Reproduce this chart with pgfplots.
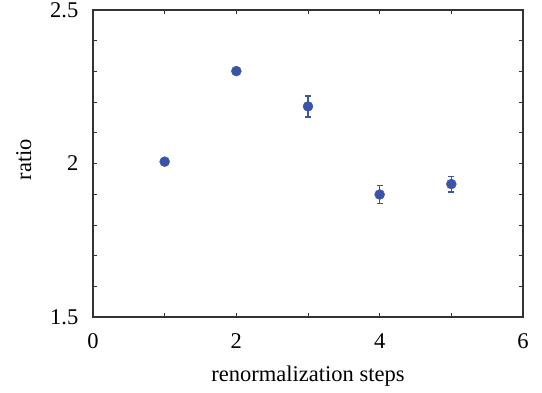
\documentclass[border=0pt]{standalone}
\usepackage{pgfplots}
\pgfplotsset{compat=1.18}
\usepackage{fontspec}
\setmainfont{Liberation Serif}
\definecolor{ptblue}{HTML}{3A55A8}
\definecolor{axgray}{HTML}{333333}
\begin{document}
\fontsize{22.5}{27}\selectfont
\begin{tikzpicture}
\useasboundingbox (-93pt,-75pt) rectangle (449pt,317pt);
\begin{axis}[
  scale only axis,
  width=430pt, height=307pt,
  at={(0,0)}, anchor=south west,
  xmin=0, xmax=6, ymin=1.5, ymax=2.5,
  xtick={0,1,2,3,4,5,6},
  xticklabels={0,,2,,4,,6},
  ytick={1.5,1.6,1.7,1.8,1.9,2,2.1,2.2,2.3,2.4,2.5},
  yticklabels={1.5,,,,,2,,,,,2.5},
  tick align=inside,
  major tick length=4pt,
  tick style={axgray, line width=0.8pt},
  axis line style={axgray, line width=1.2pt},
  ticklabel style={font=\fontsize{22.5}{27}\selectfont},
  /pgf/number format/assume math mode=true,
  xlabel={renormalization steps},
  ylabel={ratio},
  label style={font=\fontsize{22.5}{27}\selectfont},
  xlabel style={at={(0.5,0)}, anchor=north, yshift=-41pt},
  ylabel style={at={(0,0.5)}, anchor=south, xshift=4pt, yshift=54pt},
  xticklabel style={yshift=-9pt},
  yticklabel style={xshift=-7pt},
]
\addplot[
  only marks, color=ptblue,
  mark=*, mark size=5pt, mark options={draw=ptblue, fill=ptblue},
  error bars/.cd, y dir=both, y explicit,
  error bar style={line width=1.6pt, ptblue},
  error mark options={rotate=90, mark size=3pt, line width=1.6pt, ptblue},
] coordinates {
  (1, 2.006) +- (0, 0)
  (2, 2.301) +- (0, 0)
  (3, 2.186) +- (0, 0.034)
  (4, 1.899) +- (0, 0.029)
  (5, 1.933) +- (0, 0.025)
};
\end{axis}
\end{tikzpicture}
\end{document}
